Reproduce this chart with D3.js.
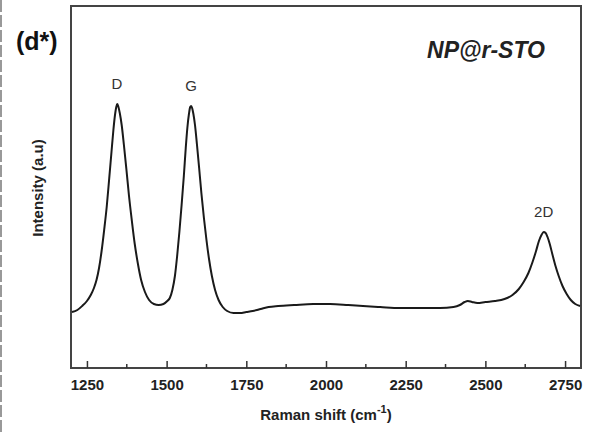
<!DOCTYPE html>
<html><head><meta charset="utf-8">
<script src="https://cdn.jsdelivr.net/npm/d3@7"></script>
<style>body{margin:0;background:#fff;} svg{display:block;font-family:Arial,"Liberation Sans",sans-serif;}</style>
</head><body>
<svg id="c" width="594" height="434"></svg>
<script>
const ramanShift = [1203,1220,1235,1250,1262,1272,1280,1288,1296,1304,1312,1320,1327,1333,1338,1342,1345,1348,1353,1359,1366,1374,1382,1391,1400,1410,1420,1432,1445,1460,1475,1490,1502,
  1510,1518,1526,1533,1540,1547,1554,1560,1565,1570,1574,1577,1580,1584,1589,1595,1602,1609,1617,1625,1633,1642,1652,1663,1676,1690,1710,
  1730,1750,1770,1795,1820,1850,1900,1960,2013,2070,2116,2170,2232,2300,2358,2400,2420,2435,2445,2458,2475,2500,2530,2560,2585,2605,2620,2635,2648,2659,2668,2676,2683,2689,2695,2702,2710,2720,2730,2742,2755,2768,2782,2797];
const intensity = [56,58,62,67,73,80,88,100,117,138,161,190,216,238,253,261,264,262,255,243,223,198,172,147,124,104,88,76,68,64,63,64,67,
  70,78,92,112,136,163,192,220,240,254,261,262,260,254,243,224,200,175,150,128,109,92,78,68,61,57,55,
  55,56,57,59,61,62,63,64,64,63,62,61,60,60,60,61,63,66,67,66,65,66,67,69,73,79,86,95,106,117,127,133,136,135,131,124,114,102,92,82,74,68,64,62];
const xTicks = [1250,1500,1750,2000,2250,2500,2750];
const xMinorTicks = [1375,1625,1875,2125,2375,2625];
const peakLabels = ["D","G","2D"];
const peakPos = [1344,1577,2683];
const peakHeight = [264,262,136];

const svg = d3.select("#c");
const m = {l:71, r:581, t:6, b:368};
const x = d3.scaleLinear().domain([1200,2800]).range([m.l,m.r]);
const y = d3.scaleLinear().domain([0,362]).range([m.b,m.t]);

// left page artifact
svg.append("line").attr("x1",1).attr("x2",1).attr("y1",0).attr("y2",434)
  .attr("stroke","#999").attr("stroke-width",2).attr("stroke-dasharray","12,3");

// frame
svg.append("rect").attr("x",m.l).attr("y",m.t).attr("width",m.r-m.l).attr("height",m.b-m.t)
  .attr("fill","none").attr("stroke","#444").attr("stroke-width",2);

// bottom axis ticks (inward)
const ax = svg.append("g").attr("transform",`translate(0,${m.b})`)
  .call(d3.axisBottom(x).tickValues(xTicks).tickSize(-7).tickFormat(d3.format("d")));
ax.select(".domain").remove();
ax.selectAll(".tick line").attr("stroke","#333").attr("stroke-width",1.5);
ax.selectAll(".tick text").attr("y",11).attr("dy","0.71em")
  .attr("font-size",15).attr("font-weight","bold").attr("fill","#222")
  .attr("font-family","Arial,'Liberation Sans',sans-serif");
svg.append("g").selectAll("line").data(xMinorTicks).join("line")
  .attr("x1",d=>x(d)).attr("x2",d=>x(d)).attr("y1",m.b).attr("y2",m.b-4)
  .attr("stroke","#333").attr("stroke-width",1.5);

// curve
const pts = ramanShift.map((d,i)=>[d,intensity[i]]);
svg.append("path").datum(pts)
  .attr("d", d3.line().x(d=>x(d[0])).y(d=>y(d[1])).curve(d3.curveMonotoneX))
  .attr("fill","none").attr("stroke","#1a1a1a").attr("stroke-width",2);

// peak labels
svg.append("g").selectAll("text").data(peakLabels).join("text")
  .attr("x",(d,i)=>x(peakPos[i])).attr("y",(d,i)=>y(peakHeight[i])-15)
  .attr("text-anchor","middle").attr("font-size",15).attr("fill","#333").text(d=>d);

// sample label
svg.append("text").attr("x",486).attr("y",58).attr("text-anchor","middle")
  .attr("font-size",23).attr("font-style","italic").attr("font-weight","bold").attr("fill","#222")
  .text("NP@r-STO");

// panel label
svg.append("text").attr("x",16).attr("y",50)
  .attr("font-size",25).attr("font-weight","bold").attr("fill","#111").text("(d*)");

// axis titles
const xt = svg.append("text").attr("x",326).attr("y",420).attr("text-anchor","middle")
  .attr("font-size",15).attr("font-weight","bold").attr("fill","#222");
xt.append("tspan").text("Raman shift (cm");
xt.append("tspan").attr("dy",-7).attr("font-size",11).text("-1");
xt.append("tspan").attr("dy",7).text(")");

svg.append("text").attr("transform","translate(43,188) rotate(-90)").attr("text-anchor","middle")
  .attr("font-size",15).attr("font-weight","bold").attr("fill","#222").text("Intensity (a.u)");
</script>
</body></html>
